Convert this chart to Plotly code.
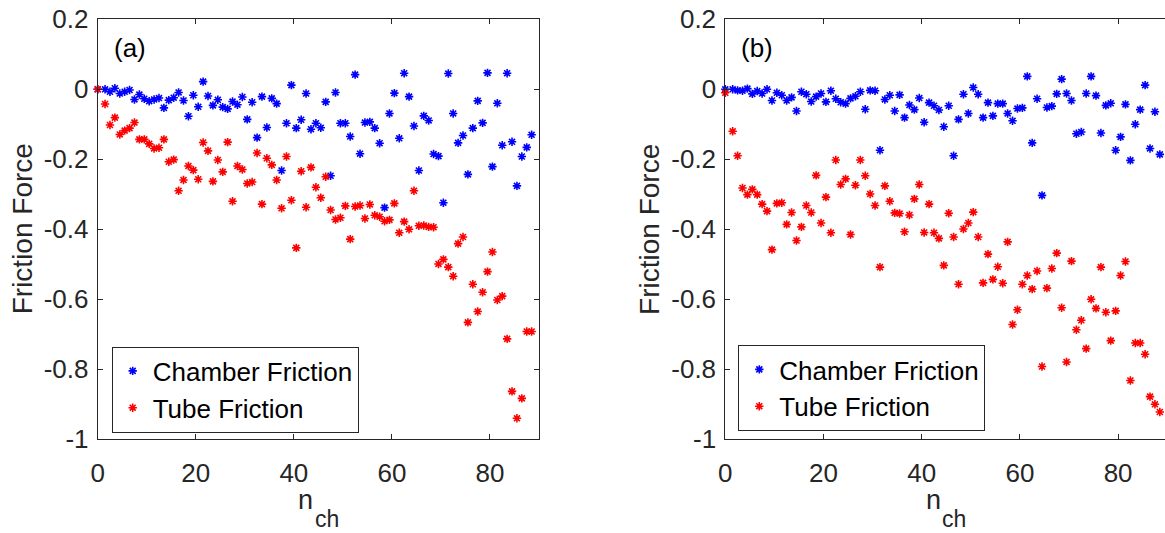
import plotly.graph_objects as go

# ---------------- data ----------------
n_ch = [0.0] + [k + 0.5 for k in range(1, 89)]

chamber_a = [0.0, 0.000, -0.007, 0.003, -0.012, -0.007, -0.002, -0.029, -0.015, -0.027,
             -0.034, -0.029, -0.025, -0.053, -0.031, -0.024, -0.009, -0.032, -0.077, -0.017,
             -0.050, 0.022, -0.019, -0.046, -0.030, -0.051, -0.056, -0.035, -0.044, -0.022,
             -0.086, -0.037, -0.138, -0.021, -0.109, -0.026, -0.041, -0.232, -0.097, 0.012,
             -0.111, -0.087, -0.012, -0.114, -0.097, -0.110, -0.036, -0.247, -0.009, -0.097,
             -0.097, -0.135, 0.042, -0.184, -0.095, -0.093, -0.111, -0.154, -0.338, -0.069,
             -0.011, -0.140, 0.046, -0.021, -0.105, -0.232, -0.076, -0.089, -0.185, -0.191,
             -0.324, 0.045, -0.069, -0.153, -0.132, -0.243, -0.111, -0.033, -0.096, 0.047,
             -0.221, -0.040, -0.160, 0.046, -0.150, -0.276, -0.192, -0.166, -0.130]

tube_a = [0.0, -0.042, -0.102, -0.081, -0.129, -0.118, -0.111, -0.095, -0.143, -0.143,
          -0.156, -0.169, -0.167, -0.143, -0.207, -0.201, -0.290, -0.259, -0.219, -0.231,
          -0.257, -0.152, -0.176, -0.263, -0.202, -0.236, -0.151, -0.320, -0.219, -0.229,
          -0.269, -0.265, -0.182, -0.328, -0.197, -0.216, -0.259, -0.340, -0.192, -0.317,
          -0.453, -0.234, -0.337, -0.223, -0.280, -0.310, -0.250, -0.345, -0.372, -0.367,
          -0.333, -0.428, -0.335, -0.332, -0.369, -0.329, -0.360, -0.364, -0.377, -0.373,
          -0.326, -0.410, -0.378, -0.400, -0.290, -0.390, -0.389, -0.393, -0.394, -0.499,
          -0.486, -0.508, -0.534, -0.441, -0.422, -0.666, -0.557, -0.635, -0.580, -0.521,
          -0.465, -0.602, -0.591, -0.713, -0.863, -0.940, -0.883, -0.692, -0.692]

chamber_b = [0.0, 0.000, -0.003, -0.004, 0.002, -0.013, -0.005, -0.012, 0.000, -0.032,
             -0.010, -0.017, -0.032, -0.023, -0.062, -0.007, -0.014, -0.035, -0.021, -0.012,
             -0.036, -0.004, -0.027, -0.037, -0.041, -0.026, -0.020, -0.007, -0.057, -0.003,
             -0.004, -0.174, -0.029, -0.017, -0.062, -0.016, -0.081, -0.045, -0.058, -0.025,
             -0.094, -0.038, -0.047, -0.059, -0.107, -0.047, -0.190, -0.086, -0.014, -0.069,
             0.005, -0.014, -0.081, -0.038, -0.076, -0.041, -0.041, -0.069, -0.090, -0.055,
             -0.053, 0.037, -0.153, -0.027, -0.303, -0.052, -0.048, -0.013, 0.029, -0.012,
             -0.032, -0.127, -0.122, -0.012, 0.037, -0.018, -0.125, -0.046, -0.040, -0.174,
             -0.136, -0.043, -0.203, -0.100, -0.058, 0.012, -0.169, -0.064, -0.186]

tube_b = [-0.010, -0.120, -0.190, -0.282, -0.301, -0.286, -0.301, -0.328, -0.348, -0.458,
          -0.326, -0.324, -0.386, -0.352, -0.432, -0.393, -0.332, -0.352, -0.246, -0.382,
          -0.308, -0.410, -0.202, -0.272, -0.256, -0.415, -0.274, -0.202, -0.247, -0.299,
          -0.332, -0.508, -0.276, -0.320, -0.353, -0.355, -0.407, -0.359, -0.313, -0.272,
          -0.409, -0.328, -0.410, -0.426, -0.503, -0.354, -0.422, -0.557, -0.399, -0.382,
          -0.351, -0.422, -0.553, -0.471, -0.543, -0.507, -0.554, -0.436, -0.672, -0.630,
          -0.557, -0.532, -0.571, -0.519, -0.792, -0.568, -0.512, -0.468, -0.624, -0.779,
          -0.491, -0.687, -0.660, -0.741, -0.600, -0.626, -0.508, -0.637, -0.718, -0.633,
          -0.532, -0.492, -0.832, -0.725, -0.725, -0.757, -0.878, -0.900, -0.922]

series_names = ["Chamber Friction", "Tube Friction"]
panel_labels = ["(a)", "(b)"]
x_tickvals = [0, 20, 40, 60, 80]
x_ticktext = ["0", "20", "40", "60", "80"]
y_tickvals = [-1, -0.8, -0.6, -0.4, -0.2, 0, 0.2]
y_ticktext = ["-1", "-0.8", "-0.6", "-0.4", "-0.2", "0", "0.2"]
y_title = "Friction Force"

# ---------------- style ----------------
W, H = 1165, 533
FONT = "Liberation Sans, Arial, Helvetica, sans-serif"
AX = "#262626"
BLUE = "#0000ff"
RED = "#ff0000"


def px(x):
    return x / W


def py(y):
    return 1 - y / H


fig = go.Figure()


def add(x, y, name, color, xa, ya, legend):
    fig.add_trace(go.Scatter(
        x=x, y=y, mode="markers", name=name, xaxis=xa, yaxis=ya, legend=legend,
        cliponaxis=False,
        marker=dict(symbol="asterisk", size=7, color=color,
                    line=dict(color=color, width=1.6)),
    ))


add(n_ch, chamber_a, series_names[0], BLUE, "x", "y", "legend")
add(n_ch, tube_a, series_names[1], RED, "x", "y", "legend")
add(n_ch, chamber_b, series_names[0], BLUE, "x2", "y2", "legend2")
add(n_ch, tube_b, series_names[1], RED, "x2", "y2", "legend2")

common = dict(showgrid=False, zeroline=False, showline=True, linecolor=AX, linewidth=1,
              ticks="inside", ticklen=5, tickwidth=1, tickcolor=AX, automargin=False,
              tickfont=dict(family=FONT, size=26, color=AX))

ydom = [py(439.3), py(19.3)]
xcommon = dict(tickmode="array", tickvals=x_tickvals, ticktext=x_ticktext,
               mirror="ticks", ticklabelstandoff=10, **common)
ycommon = dict(range=[-1, 0.2], domain=ydom, tickmode="array", tickvals=y_tickvals,
               ticktext=y_ticktext, ticklabelstandoff=3, **common)
legend_common = dict(xanchor="left", yanchor="top", bgcolor="white", bordercolor=AX,
                     borderwidth=1, font=dict(family=FONT, size=26, color="black"))

fig.update_layout(
    width=W, height=H, autosize=False,
    margin=dict(l=0, r=0, t=0, b=0, autoexpand=False),
    paper_bgcolor="white", plot_bgcolor="white",
    font=dict(family=FONT, color=AX),
    xaxis=dict(domain=[px(97.7), px(539.0)], range=[0, 90], anchor="y", **xcommon),
    yaxis=dict(anchor="x", mirror="ticks", **ycommon),
    xaxis2=dict(domain=[px(725.3), 1.0], range=[0, 89.55], anchor="y2", **xcommon),
    yaxis2=dict(anchor="x2", mirror=False, **ycommon),
    legend=dict(x=px(111.7), y=py(346.5), **legend_common),
    legend2=dict(x=px(738.3), y=py(345.0), **legend_common),
)

annotations = []
for i, off in enumerate([0.0, 627.6]):
    annotations.append(dict(text=panel_labels[i], x=px(111.7 + off), y=py(48),
                            xref="paper", yref="paper", xanchor="left", yanchor="middle",
                            showarrow=False, font=dict(family=FONT, size=26, color="black")))
    annotations.append(dict(text=y_title, textangle=-90, x=px(22 + off), y=py(229.3),
                            xref="paper", yref="paper", xanchor="center", yanchor="middle",
                            showarrow=False, font=dict(family=FONT, size=28, color=AX)))
    annotations.append(dict(text="n", x=px(305.5 + off), y=py(500),
                            xref="paper", yref="paper", xanchor="center", yanchor="middle",
                            showarrow=False, font=dict(family=FONT, size=27, color=AX)))
    annotations.append(dict(text="ch", x=px(326.5 + off), y=py(519),
                            xref="paper", yref="paper", xanchor="center", yanchor="middle",
                            showarrow=False, font=dict(family=FONT, size=23, color=AX)))
fig.update_layout(annotations=annotations)

fig.write_html("out.html")
